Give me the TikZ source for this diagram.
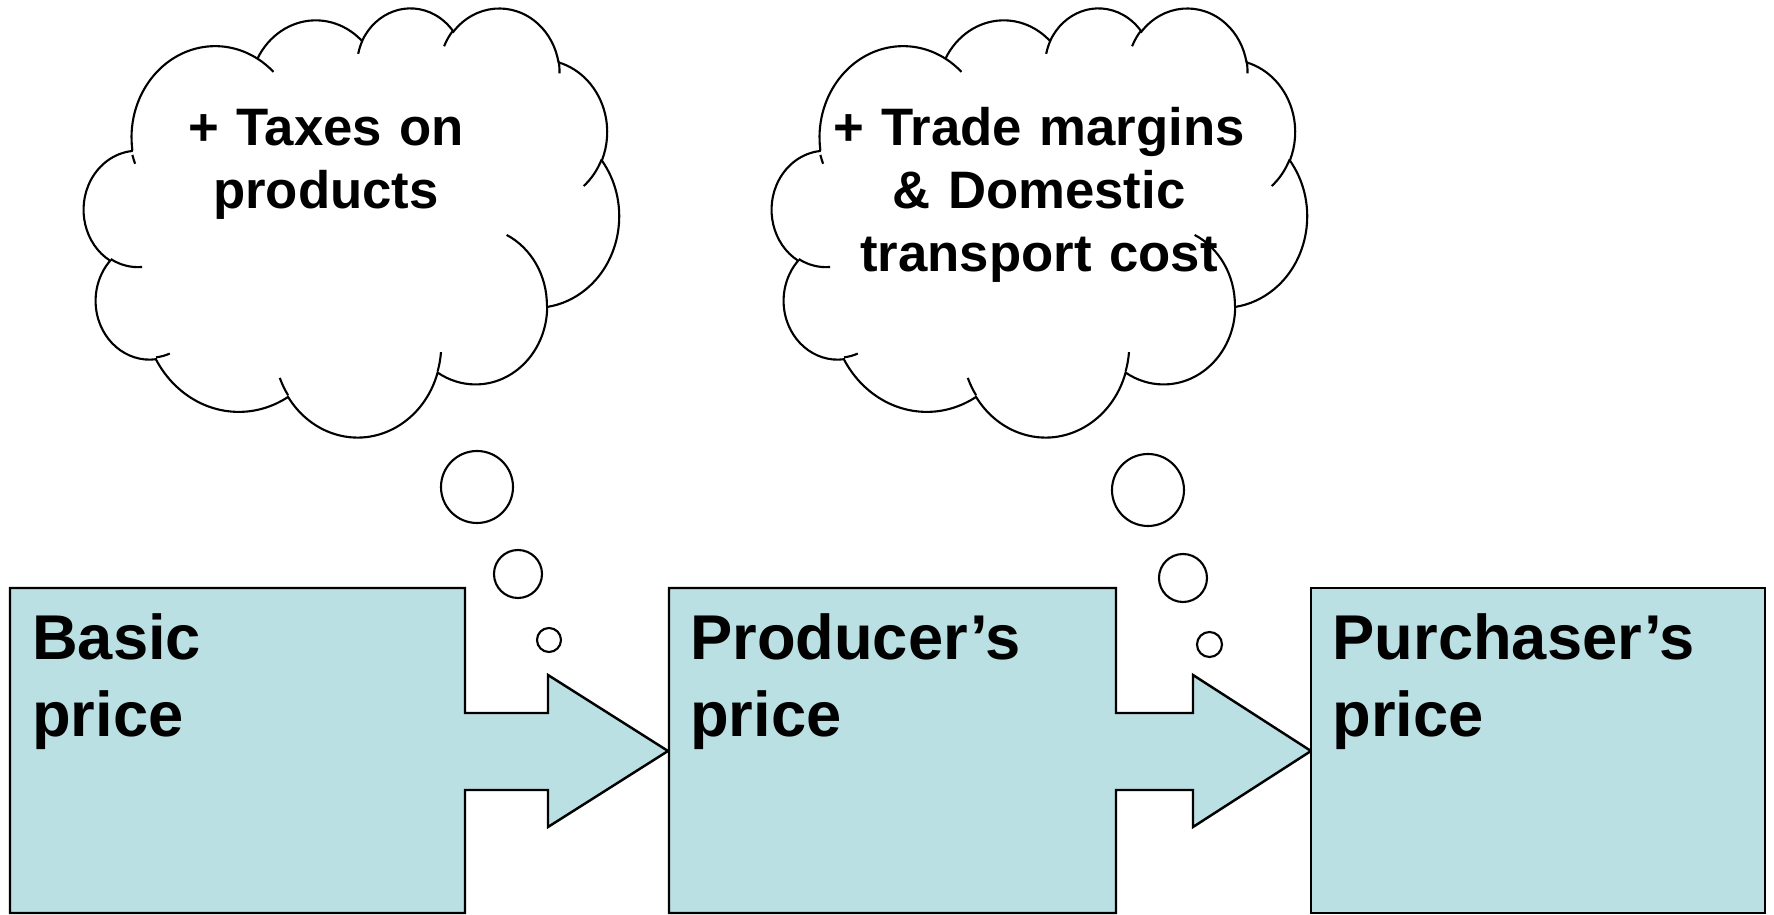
\documentclass[tikz,border=0pt]{standalone}
\usepackage{fontspec}
\setmainfont{Liberation Sans}
\usepackage{tikz}
\usetikzlibrary{calc}
\definecolor{boxBlue} {RGB}{187, 224, 227}

% arc of an ellipse, radii in cm, start and sweep given as visual angles
\newcommand{\pptarc}[4]{%
  arc[x radius=#1cm, y radius=#2cm,
      start angle={atan2(#1*sin(#3),#2*cos(#3))},
      delta angle={mod(atan2(#1*sin(#3+#4),#2*cos(#3+#4))-atan2(#1*sin(#3),#2*cos(#3))+720,360)}]}

% thought cloud in a 4.32 x 4.32 frame (y pointing down)
\newcommand{\cloudpath}{%
  (0.39,1.437)
  \pptarc{0.6753}{0.9190}{-190.4875}{123.7805}
  \pptarc{0.5333}{0.7267}{-144.1024}{89.9452}
  \pptarc{0.4365}{0.5945}{-145.8079}{99.7230}
  \pptarc{0.4857}{0.6595}{-130.9861}{117.2417}
  \pptarc{0.5333}{0.7273}{-78.7089}{109.0269}
  \pptarc{0.6775}{0.9220}{-46.2673}{130.2690}
  \pptarc{0.5785}{0.7867}{0.6250}{114.0333}
  \pptarc{0.6752}{0.9215}{22.4516}{115.1726}
  \pptarc{0.7720}{1.0543}{66.2426}{75.7110}
  \pptarc{0.4360}{0.5918}{-274.9421}{146.7356}
  \pptarc{0.4345}{0.5945}{-246.8285}{152.5189} -- cycle
  % inner bits of the bumps
  (0.4693,2.6177) \pptarc{0.4345}{0.5945}{86.7420}{26.4295}
  (0.6928,3.4899) \pptarc{0.4360}{0.5918}{73.6105}{11.4475}
  (1.6478,3.9090) \pptarc{0.6752}{0.9215}{137.6242}{14.0811}
  (2.8827,3.4751) \pptarc{0.6752}{0.9215}{6.4533}{15.9984}
  (3.4129,2.2954) \pptarc{0.5785}{0.7867}{-70.2924}{70.9174}
  (4.1798,1.5354) \pptarc{0.5333}{0.7273}{30.3181}{27.7515}
  (3.8324,0.5426) \pptarc{0.4857}{0.6595}{-13.7443}{14.8589}
  (2.9078,0.3952) \pptarc{0.4857}{0.6595}{-149.1815}{18.1954}
  (2.2141,0.4720) \pptarc{0.4365}{0.5945}{-163.4943}{17.6864}
  (1.4000,0.5192) \pptarc{0.6753}{0.9190}{-66.7070}{12.3194}
  (0.4127,1.5789) \pptarc{0.6753}{0.9190}{151.8417}{7.3482}}

\begin{document}
\begin{tikzpicture}[
    calloutbox/.style={fill=boxBlue,draw=black,line width=0.7pt,line join=miter},
    cloudline/.style={draw=black,line width=0.6pt},
    boxtext/.style={anchor=base west,inner sep=0pt,text width=4.2cm,align=left,
                    font=\bfseries\fontsize{18}{21.9}\selectfont},
    cloudtext/.style={anchor=base,inner sep=0pt,text width=5.4cm,align=center,
                      font=\bfseries\fontsize{15}{17.9}\selectfont}]

    \useasboundingbox (0,0) rectangle (17.74,9.15);

    % Basic price, arrow to the right
    \draw[calloutbox] (0.10,3.27) -- (4.65,3.27) -- (4.65,2.02) -- (5.48,2.02)
      -- (5.48,2.40) -- (6.68,1.64) -- (5.48,0.88) -- (5.48,1.25) -- (4.65,1.25)
      -- (4.65,0.02) -- (0.10,0.02) -- cycle;
    \node[boxtext] (basic) at (0.315,2.55) {Basic\\price};

    % Producer's price, arrow to the right
    \draw[calloutbox] (6.69,3.27) -- (11.16,3.27) -- (11.16,2.02) -- (11.93,2.02)
      -- (11.93,2.40) -- (13.11,1.64) -- (11.93,0.88) -- (11.93,1.25) -- (11.16,1.25)
      -- (11.16,0.02) -- (6.69,0.02) -- cycle;
    \node[boxtext] (producer) at (6.895,2.55) {Producer’s\\price};

    % Purchaser's price
    \draw[calloutbox] (13.11,0.02) rectangle (17.65,3.27);
    \node[boxtext] (purchaser) at (13.32,2.55) {Purchaser’s\\price};

    % clouds
    \draw[cloudline,shift={(0.84,9.08)},xscale=1.2384,yscale=-0.9931] \cloudpath;
    \draw[cloudline,shift={(7.72,9.08)},xscale=1.2384,yscale=-0.9931] \cloudpath;
    \node[cloudtext] (taxes) at (3.26,7.69) {+ Taxes on\\products};
    \node[cloudtext] (margins) at (10.39,7.69)
      {+ Trade margins\\\& Domestic\hspace*{0.12cm}\\transport cost};

    % bubbles
    \foreach \cx/\cy/\r in {4.77/4.28/0.36,5.18/3.41/0.24,5.49/2.75/0.12,
                            11.48/4.25/0.36,11.83/3.37/0.24,12.095/2.705/0.125}{
      \draw[cloudline] (\cx,\cy) circle (\r);
    }

\end{tikzpicture}
\end{document}
